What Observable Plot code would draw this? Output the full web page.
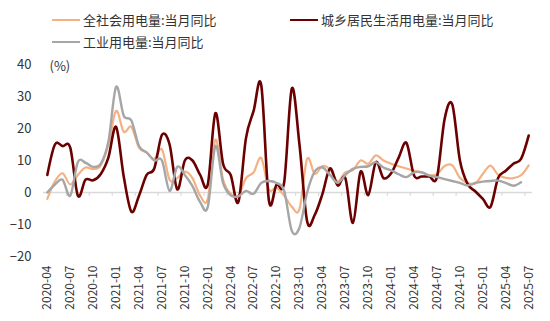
<!DOCTYPE html>
<html><head><meta charset="utf-8">
<script src="https://cdn.jsdelivr.net/npm/d3@7"></script>
<script src="https://cdn.jsdelivr.net/npm/@observablehq/plot@0.6"></script>
<style>
body{margin:0;background:#fff;}
#wrap{position:relative;width:550px;height:321px;font-family:"Noto Sans CJK SC",sans-serif;}
.lg{position:absolute;font-size:13px;color:#333;display:flex;align-items:center;white-space:nowrap;line-height:16px;}
.lg .sw{display:inline-block;width:28px;height:0;border-top:2px solid;margin-right:3px;}
</style></head><body><div id="wrap"></div>
<script>
const months = ["2020-04","2020-05","2020-06","2020-07","2020-08","2020-09","2020-10","2020-11","2020-12",
"2021-01","2021-02","2021-03","2021-04","2021-05","2021-06","2021-07","2021-08","2021-09","2021-10","2021-11","2021-12",
"2022-01","2022-02","2022-03","2022-04","2022-05","2022-06","2022-07","2022-08","2022-09","2022-10","2022-11","2022-12",
"2023-01","2023-02","2023-03","2023-04","2023-05","2023-06","2023-07","2023-08","2023-09","2023-10","2023-11","2023-12",
"2024-01","2024-02","2024-03","2024-04","2024-05","2024-06","2024-07","2024-08","2024-09","2024-10","2024-11","2024-12",
"2025-01","2025-02","2025-03","2025-04","2025-05","2025-06","2025-07"];

// 全社会用电量:当月同比
const total = [-2,3.5,6,2.5,5.5,7.8,7.3,8.5,15,25.5,19,20.5,14,12.5,10.5,13.5,4,4.5,6.5,4.5,-1,-2,
16.5,4,-0.4,-1,4.5,6.3,10.8,1,1.5,-1,-4.4,-5.2,10.5,5.8,8.3,7.2,3.5,6.3,7,10,9,11.6,10,
9,8.2,7.5,6.8,6.3,5.4,5.7,8.3,8.5,4.6,3,2.8,5.8,8.4,5.5,4.6,4.5,5.4,8.5];

// 城乡居民生活用电量:当月同比
const resident = [5.5,15,14.5,14,-1,4,3.8,5.8,11,20.5,5,-6,-1,5.5,7.5,18,15,1,10,10,5.5,2.5,
24.8,9,5.5,-3,17,25.5,33.5,-2.5,2.5,3.2,32.5,15,-9,-7,-0.5,7.5,2.2,4.5,-9.5,6.5,-0.8,9.5,4.5,
6,11,15.5,5.3,5,5,4.8,23,27.5,10,2.7,0.4,-2,-4.5,4.5,6.8,9,10.5,17.8];

// 工业用电量:当月同比 (to 2025-06)
const industry = [0,2.5,4,-1,9.5,9.3,8,9,16,33,24,22.5,14.5,12.5,10,10,0.5,8,5.5,2,-3,-4.5,
14.5,3,-0.9,-1.2,0.5,-0.4,3,3.6,3,0.5,-12,-11,0,6.5,7.8,5.5,3,5.5,7.4,8,8.2,9.5,7.8,
6.9,5.7,4.8,6.3,6.3,5.3,4.8,4.2,3.6,3,2.2,3,3.4,3.6,3.7,3,2.1,3.2];

const names = ["全社会用电量:当月同比","城乡居民生活用电量:当月同比","工业用电量:当月同比"];
const colors = ["#F4B183","#6B0000","#A6A6A6"];
const widths = [2.2,2.6,2.4];
const yTicks = [-20,-10,0,10,20,30,40];

const seriesVals = [total, resident, industry];
const rows = [];
seriesVals.forEach((vals, s) => vals.forEach((v, i) => rows.push({s, i, v})));
const labelIdx = months.map((m, i) => i).filter(i => i % 3 === 0);
const tickIdx = labelIdx.filter(i => i > 0).map(i => i - 0.5);
const curve = d3.curveCardinal.tension(0);

const marks = [
  Plot.ruleY([0], {stroke: "#D9D9D9", strokeWidth: 1.5}),
  Plot.ruleX(tickIdx, {x: d => d, y1: 0, y2: -1.2, stroke: "#D9D9D9", strokeWidth: 1.2}),
  Plot.axisY(yTicks, {tickSize: 0, tickPadding: 12, fontSize: 13, fill: "#333", label: null}),
  Plot.axisX(labelIdx, {tickSize: 0, tickPadding: 9, tickRotate: -90, fontSize: 12, fill: "#333",
    tickFormat: i => months[i], label: null}),
  Plot.text(["(%)"], {frameAnchor: "top-left", dx: 6, dy: 2, lineAnchor: "middle", textAnchor: "start",
    fontSize: 13, fill: "#333"})
];
[0, 1, 2].forEach(s => {
  marks.push(Plot.line(rows.filter(r => r.s === s), {x: "i", y: "v", stroke: colors[s],
    strokeWidth: widths[s], curve}));
});

const chart = Plot.plot({
  width: 550, height: 321,
  marginTop: 64, marginBottom: 65, marginLeft: 43, marginRight: 18,
  x: {domain: [-0.5, months.length - 0.5], axis: null},
  y: {domain: [-20, 40], axis: null},
  style: {fontFamily: '"Noto Sans CJK SC", sans-serif', background: "#fff", overflow: "visible"},
  marks
});
const wrap = document.getElementById("wrap");
wrap.appendChild(chart);

const lgPos = [[52, 12], [290, 12], [52, 34]];
names.forEach((n, s) => {
  const d = document.createElement("div");
  d.className = "lg";
  d.style.left = lgPos[s][0] + "px";
  d.style.top = lgPos[s][1] + "px";
  const sw = document.createElement("span");
  sw.className = "sw";
  sw.style.borderTopColor = colors[s];
  sw.style.borderTopWidth = (s === 1 ? 2.6 : 2) + "px";
  d.appendChild(sw);
  d.appendChild(document.createTextNode(n));
  wrap.appendChild(d);
});
</script></body></html>
